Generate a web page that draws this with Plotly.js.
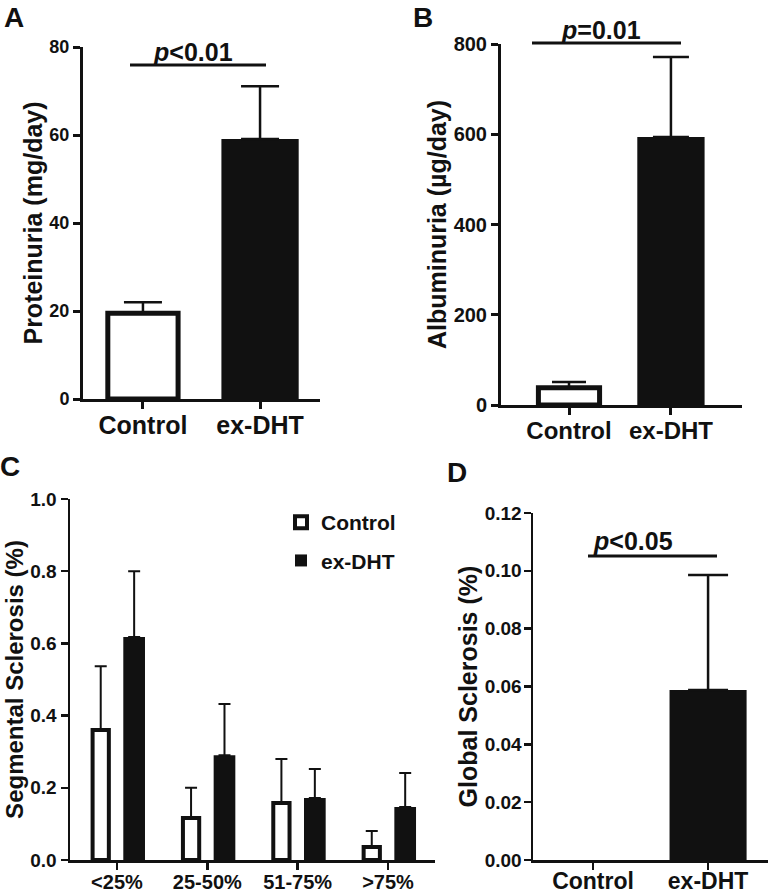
<!DOCTYPE html>
<html>
<head>
<meta charset="utf-8">
<script src="https://cdn.plot.ly/plotly-3.0.1.min.js"></script>
<style>
  html, body { margin: 0; padding: 0; background: #fff; }
  #plot { width: 768px; height: 895px; }
</style>
</head>
<body>
<div id="plot"></div>
<script>
// groups and values
const groups = ['Control', 'ex-DHT'];

// A: proteinuria (mg/day), mean and SEM
const proteinuria = [19.5, 59.1];
const proteinuriaSem = [2.5, 12.0];

// B: albuminuria (ug/day)
const albuminuria = [38, 594];
const albuminuriaSem = [13, 177];

// C: segmental sclerosis by bin
const sclerosisBins = ['<25%', '25-50%', '51-75%', '>75%'];
const segControl = [0.36, 0.116, 0.158, 0.036];
const segControlSem = [0.177, 0.084, 0.122, 0.044];
const segDht = [0.618, 0.29, 0.172, 0.147];
const segDhtSem = [0.182, 0.142, 0.08, 0.094];

// D: global sclerosis
const globalScl = [0, 0.0588];
const globalSclSem = [0, 0.0398];

const W = 768, H = 895;
const ink = '#111';
const FONT = 'Liberation Sans, Arial, Helvetica, sans-serif';

// pixel -> paper helpers
function px(x) { return x / W; }
function py(y) { return 1 - y / H; }

function bold(size) {
    return { family: FONT, size: size, color: ink, weight: 'bold' };
}

// one bar with upward-only error bar
function bar(xa, ya, x, y, sem, opts) {
    return {
        type: 'bar',
        xaxis: xa, yaxis: ya,
        x: x, y: y,
        width: opts.width,
        offset: opts.offset,
        name: opts.name,
        showlegend: !!opts.legend,
        legendgroup: opts.name,
        marker: {
            color: opts.fill,
            line: { color: ink, width: opts.lw }
        },
        error_y: {
            type: 'data', symmetric: false,
            array: sem, arrayminus: sem.map(() => 0),
            color: ink, thickness: opts.thick, width: opts.cap
        },
        hoverinfo: 'x+y'
    };
}

const data = [
    // A
    bar('x', 'y', [groups[0]], [proteinuria[0]], [proteinuriaSem[0]],
        { width: 0.6, fill: '#fff', lw: 5, thick: 2.5, cap: 19 }),
    bar('x', 'y', [groups[1]], [proteinuria[1]], [proteinuriaSem[1]],
        { width: 0.66, fill: ink, lw: 0, thick: 2.5, cap: 19 }),
    // B
    bar('x2', 'y2', [groups[0]], [albuminuria[0]], [albuminuriaSem[0]],
        { width: 0.6, fill: '#fff', lw: 5, thick: 2.5, cap: 17 }),
    bar('x2', 'y2', [groups[1]], [albuminuria[1]], [albuminuriaSem[1]],
        { width: 0.66, fill: ink, lw: 0, thick: 2.5, cap: 18 }),
    // C
    bar('x3', 'y3', sclerosisBins, segControl, segControlSem,
        { name: 'Control', legend: true, width: 0.18, offset: -0.27, fill: '#fff', lw: 4, thick: 2, cap: 6 }),
    bar('x3', 'y3', sclerosisBins, segDht, segDhtSem,
        { name: 'ex-DHT', legend: true, width: 0.24, offset: 0.07, fill: ink, lw: 0, thick: 2, cap: 6 }),
    // D
    bar('x4', 'y4', [groups[0]], [globalScl[0]], [globalSclSem[0]],
        { width: 0.6, fill: '#fff', lw: 0, thick: 2.5, cap: 0 }),
    bar('x4', 'y4', [groups[1]], [globalScl[1]], [globalSclSem[1]],
        { width: 0.67, fill: ink, lw: 0, thick: 2.5, cap: 20 })
];

function xAxis(x0, x1, range, anchor, tsize, lw, lblShift) {
    return {
        domain: [px(x0), px(x1)], anchor: anchor,
        type: 'category', range: range,
        showline: true, linecolor: ink, linewidth: lw,
        ticks: 'outside', ticklen: 7, tickwidth: lw, tickcolor: ink,
        ticklabelstandoff: lblShift,
        tickfont: bold(tsize), showgrid: false, zeroline: false,
        fixedrange: true
    };
}

function yAxis(y0, y1, range, dtick, fmt, anchor, tsize, title, tisize, lw, lblShift) {
    return {
        domain: [py(y1), py(y0)], anchor: anchor,
        range: range, dtick: dtick, tick0: 0, tickformat: fmt,
        showline: true, linecolor: ink, linewidth: lw,
        ticks: 'outside', ticklen: 7, tickwidth: lw, tickcolor: ink,
        ticklabelstandoff: lblShift,
        tickfont: bold(tsize), showgrid: false, zeroline: false,
        title: { text: title, font: bold(tisize), standoff: 0 },
        fixedrange: true
    };
}

// significance bars (paper pixels)
function sigLine(x0, x1, y) {
    return { type: 'line', xref: 'paper', yref: 'paper',
        x0: px(x0), x1: px(x1), y0: py(y), y1: py(y),
        line: { color: ink, width: 3 } };
}
function sigText(x, y, txt, size) {
    return { xref: 'paper', yref: 'paper', x: px(x), y: py(y),
        text: txt, showarrow: false, font: bold(size),
        xanchor: 'center', yanchor: 'middle' };
}
function panelLabel(x, y, t) {
    return { xref: 'paper', yref: 'paper', x: px(x), y: py(y),
        text: '<b>' + t + '</b>', showarrow: false, font: bold(28),
        xanchor: 'center', yanchor: 'middle' };
}

const layout = {
    width: W, height: H,
    margin: { l: 0, r: 0, t: 0, b: 0 },
    paper_bgcolor: '#fff', plot_bgcolor: 'rgba(0,0,0,0)',
    font: { family: FONT, color: ink },
    barmode: 'overlay',
    xaxis: xAxis(83, 320, [-0.512, 1.512], 'y', 25, 3, -5),
    yaxis: yAxis(47, 399, [0, 80], 20, 'd', 'x', 18, 'Proteinuria (mg/day)', 25, 3, 0),
    xaxis2: xAxis(501, 742, [-0.667, 1.697], 'y2', 24, 3, -5),
    yaxis2: yAxis(44, 405, [0, 800], 200, 'd', 'x2', 20, 'Albuminuria (µg/day)', 25, 3, 0),
    xaxis3: xAxis(70, 435, [-0.52, 3.52], 'y3', 20, 2.5, -5),
    yaxis3: yAxis(499, 860, [0, 1], 0.2, '.1f', 'x3', 19, 'Segmental Sclerosis (%)', 24, 2.5, 0),
    xaxis4: xAxis(533, 768, [-0.522, 1.521], 'y4', 23, 2.5, -8),
    yaxis4: yAxis(513, 860, [0, 0.12], 0.02, '.2f', 'x4', 19, 'Global Sclerosis (%)', 25, 2.5, -2),
    showlegend: true,
    legend: {
        x: px(281), y: py(502), xanchor: 'left', yanchor: 'top',
        font: bold(21), bgcolor: 'rgba(0,0,0,0)', borderwidth: 0,
        tracegroupgap: 8, traceorder: 'grouped'
    },
    shapes: [
        sigLine(130, 266, 65),
        sigLine(532, 681, 43),
        sigLine(588, 717, 556)
    ],
    annotations: [
        sigText(193, 52, '<b><i>p</i>&lt;0.01</b>', 25),
        sigText(601, 30, '<b><i>p</i>=0.01</b>', 25),
        sigText(633, 541, '<b><i>p</i>&lt;0.05</b>', 25),
        panelLabel(14, 18, 'A'),
        panelLabel(423, 18, 'B'),
        panelLabel(10, 466, 'C'),
        panelLabel(457, 472, 'D')
    ]
};

Plotly.newPlot('plot', data, layout, { displayModeBar: false, staticPlot: true });
</script>
</body>
</html>
